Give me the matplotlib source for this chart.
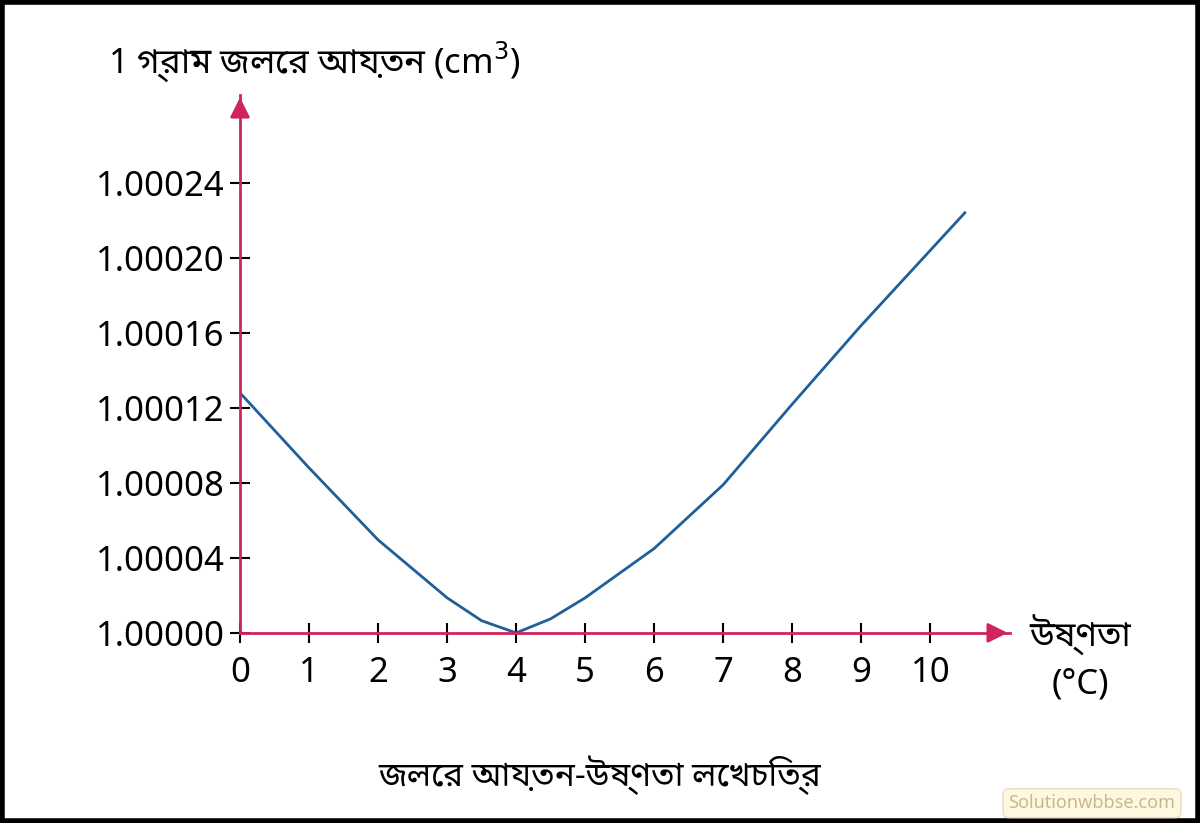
import matplotlib
matplotlib.use("Agg")
import matplotlib.pyplot as plt
import matplotlib.patches as mpatches

temps = [0, 1, 2, 3, 3.5, 4, 4.5, 5, 6, 7, 8, 9, 10, 10.5]
vol_offset = [0.000128, 0.000088, 0.0000496, 0.0000187, 0.0000065, 0.0, 0.0000075,
              0.0000187, 0.000045, 0.000079, 0.000122, 0.000164, 0.000204, 0.000224]
volumes = [1 + v for v in vol_offset]
xticks = list(range(0, 11))
yticks = [1.0, 1.00004, 1.00008, 1.00012, 1.00016, 1.00020, 1.00024]
ylabels = ["1.00000", "1.00004", "1.00008", "1.00012", "1.00016", "1.00020", "1.00024"]

fam = ['Noto Sans Bengali', 'Lohit Bengali', 'Noto Sans', 'DejaVu Sans']
plt.rcParams['font.family'] = fam
axc = '#d0245c'

fig = plt.figure(figsize=(12, 8.23), dpi=100)
ax = fig.add_axes([0.2, 0.231, 0.642, 0.654])
ax.plot(temps, volumes, color='#1f5f9a', lw=2)
ax.set_xlim(0, 11.16)
ax.set_ylim(1.0, 1.000287)
for s in ['top', 'right']:
    ax.spines[s].set_visible(False)
for s in ['left', 'bottom']:
    ax.spines[s].set_color(axc)
    ax.spines[s].set_linewidth(2)
ax.set_yticks(yticks, ylabels)
ax.set_xticks(xticks, [str(t) for t in xticks])
ax.tick_params(axis='both', direction='inout', length=14, width=1.5, color='black', labelsize=25)
ax.tick_params(axis='x', pad=10)
ax.tick_params(axis='y', pad=4)
ax.annotate('', xy=(1.0, 0), xytext=(0.97, 0), xycoords='axes fraction',
            arrowprops=dict(arrowstyle='-|>', color=axc, lw=2, mutation_scale=30), clip_on=False)
ax.annotate('', xy=(0, 1.0), xytext=(0, 0.97), xycoords='axes fraction',
            arrowprops=dict(arrowstyle='-|>', color=axc, lw=2, mutation_scale=30), clip_on=False)

fig.text(0.09, 0.925, '1 গ্রাম জলের আয়তন (cm$^3$)', fontsize=25, va='center')
fig.text(0.9, 0.228, 'উষ্ণতা', fontsize=25, ha='center', va='center')
fig.text(0.9, 0.168, '(°C)', fontsize=25, ha='center', va='center')
fig.text(0.5, 0.058, 'জলের আয়তন-উষ্ণতা লেখচিত্র', fontsize=24, ha='center', va='center')
fig.text(0.91, 0.024, 'Solutionwbbse.com', fontsize=13, ha='center', va='center', color='#c8b890',
         bbox=dict(facecolor='#fff8e0', edgecolor='#e8dcc0', boxstyle='round,pad=0.3'))
fig.patches.append(mpatches.Rectangle((0.002, 0.003), 0.996, 0.994, transform=fig.transFigure,
                                      fill=False, edgecolor='black', lw=4))
fig.savefig('out.png', dpi=100)
